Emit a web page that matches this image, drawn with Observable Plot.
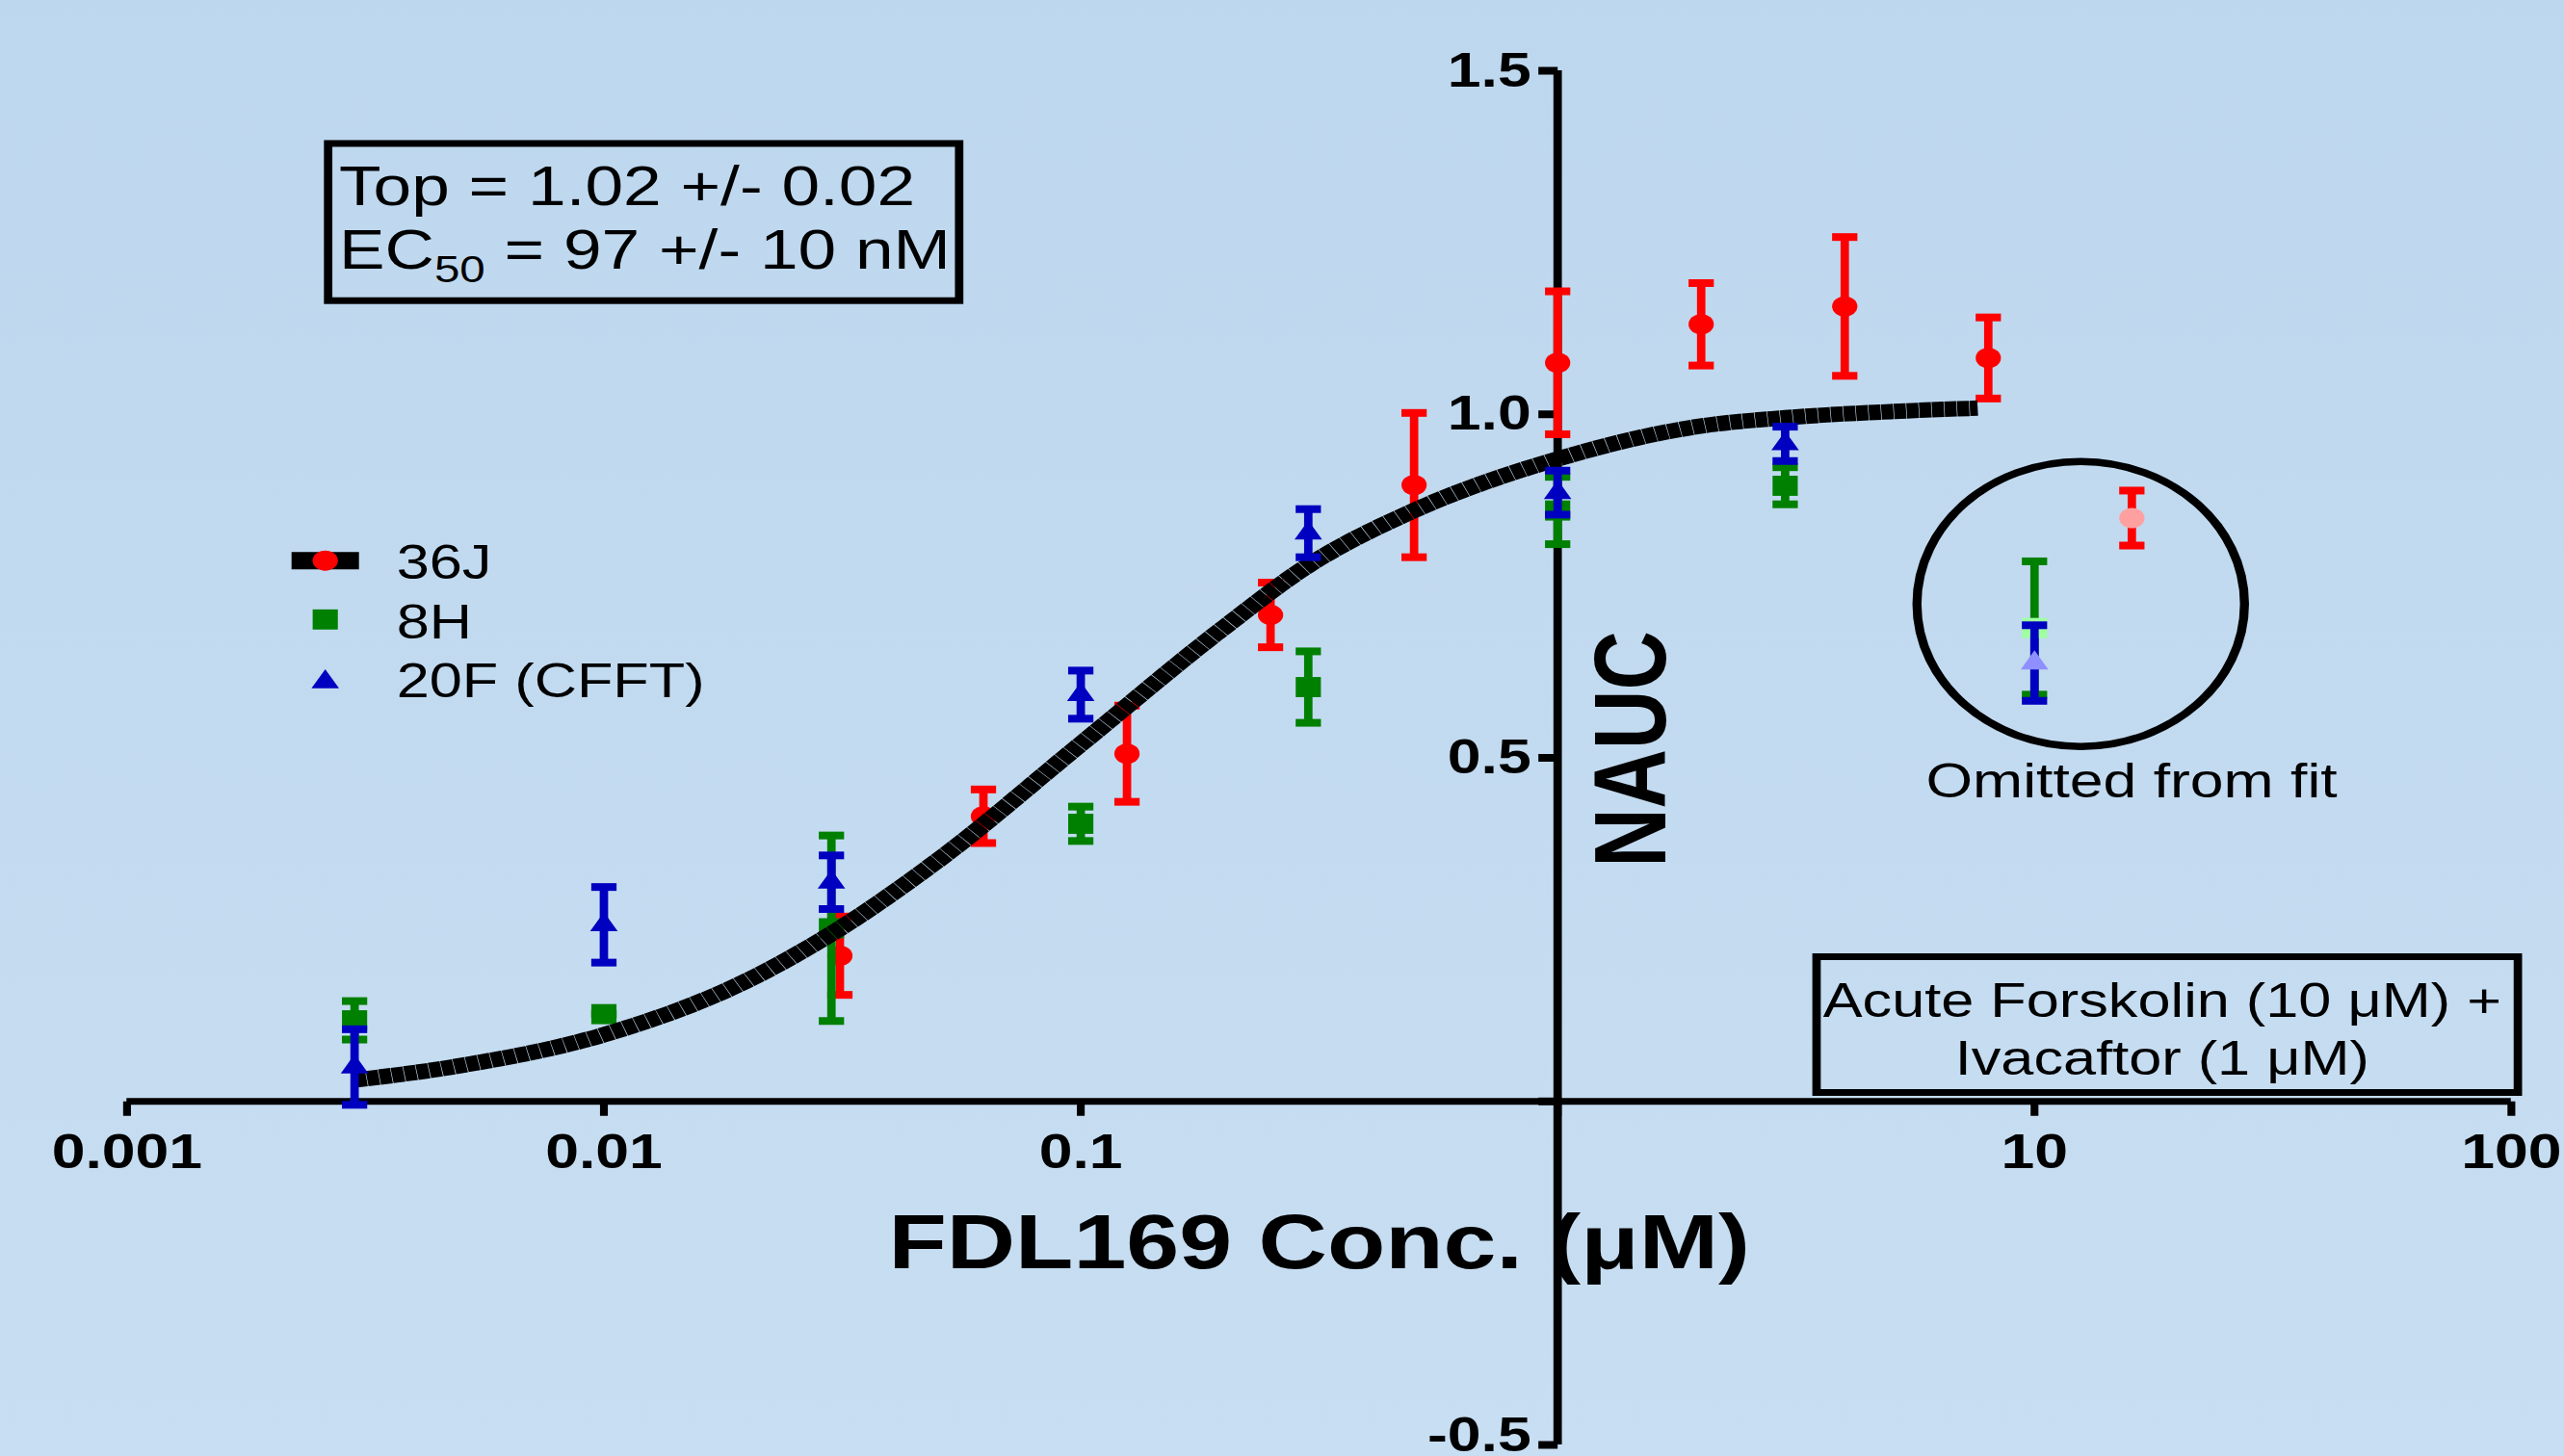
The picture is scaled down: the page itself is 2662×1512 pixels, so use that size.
<!DOCTYPE html>
<html>
<head>
<meta charset="utf-8">
<script src="https://cdn.jsdelivr.net/npm/d3@7"></script>
<script src="https://cdn.jsdelivr.net/npm/@observablehq/plot@0.6"></script>
<style>
html, body { margin: 0; padding: 0; width: 2662px; height: 1512px; overflow: hidden;
  background: linear-gradient(#BDD7EE, #C8DEF2); }
#chart { width: 2662px; height: 1512px; }
</style>
</head>
<body>
<div id="chart"></div>
<script>
// ---------------- data ----------------
const redConc  = [0.03125, 0.0625, 0.125, 0.25, 0.5, 1, 2, 4, 8];
const redMean  = [0.212, 0.415, 0.506, 0.708, 0.897, 1.075, 1.131, 1.157, 1.082];
const redSem   = [0.057, 0.039, 0.070, 0.047, 0.105, 0.104, 0.060, 0.101, 0.059];

const gbConc    = [0.003, 0.01, 0.03, 0.1, 0.3, 1, 3];
const greenMean = [0.118, 0.127, 0.252, 0.404, 0.603, 0.860, 0.896];
const greenSem  = [0.028, 0.000, 0.135, 0.025, 0.052, 0.049, 0.027];
const blueMean  = [0.050, 0.257, 0.319, 0.592, 0.827, 0.886, 0.957];
const blueSem   = [0.055, 0.055, 0.039, 0.035, 0.035, 0.032, 0.025];

// points omitted from the fit (36J, 8H, 20F)
const omitConc = [16, 10, 10];
const omitMean = [0.849, 0.689, 0.638];
const omitSem  = [0.040, 0.097, 0.055];

// fitted curve
const curveConc = [0.003, 0.005, 0.01, 0.02, 0.03, 0.05, 0.1, 0.2, 0.3, 0.5, 1, 2, 3, 5, 7.6];
const curveNAUC = [0.031, 0.052, 0.097, 0.176, 0.244, 0.350, 0.520, 0.690, 0.780, 0.860, 0.935, 0.983, 0.995, 1.004, 1.009];

const seriesNames = ["36J", "8H", "20F (CFFT)"];
const xTickValues = [0.001, 0.01, 0.1, 1, 10, 100];
const xTickLabels = ["0.001", "0.01", "0.1", "10", "100"];
const yTickValues = [-0.5, 0, 0.5, 1, 1.5];
const yTickLabels = ["0.5", "1.0", "1.5"];
const yBottomLabel = ["-0.5"];
const xTitle = "FDL169 Conc. (\u03BCM)";
const yTitle = "NAUC";
const statTop = "Top = 1.02 +/- 0.02";
const statEC = ["EC", "50", " = 97 +/- 10 nM"];
const conditionText = "Acute Forskolin (10 \u03BCM) +\nIvacaftor (1 \u03BCM)";
const omittedNote = "Omitted from fit";
const omittedCenter = [{x: 12.5, y: 0.724}];

// ---------------- layout ----------------
const S = 1.25;               // horizontal stretch of the original picture
const W = 2130, H = 1512;
const ML = 105, MR = 45, MT = 73, MB = 12;
const RED = "#FF0000", GREEN = "#008000", BLUE = "#0000C0";

// custom symbols
const lineSym = (fn) => ({draw(c, size) { const r = Math.sqrt(size / Math.PI); fn(c, r); }});
const capSym   = lineSym((c, r) => { c.moveTo(-r, 0); c.lineTo(r, 0); });
const tickDown = lineSym((c, r) => { c.moveTo(0, 0); c.lineTo(0, r); });
const tickLeft = lineSym((c, r) => { c.moveTo(0, 0); c.lineTo(-r, 0); });
const ellipseSym = (rx, ry) => ({draw(c) {
  const k = 0.5523;
  c.moveTo(rx, 0);
  c.bezierCurveTo(rx, ry * k, rx * k, ry, 0, ry);
  c.bezierCurveTo(-rx * k, ry, -rx, ry * k, -rx, 0);
  c.bezierCurveTo(-rx, -ry * k, -rx * k, -ry, 0, -ry);
  c.bezierCurveTo(rx * k, -ry, rx, -ry * k, rx, 0);
  c.closePath();
}});

const rows = (xs, ms, es) => xs.map((x, i) => ({x, y: ms[i], e: es[i]}));
const red   = rows(redConc, redMean, redSem);
const green = rows(gbConc, greenMean, greenSem);
const blue  = rows(gbConc, blueMean, blueSem);
const omit  = rows(omitConc, omitMean, omitSem);
const curve = curveConc.map((x, i) => ({x, y: curveNAUC[i]}));

function errorBars(data, color) {
  return [
    Plot.ruleX(data, {x: "x", y1: d => d.y - d.e, y2: d => d.y + d.e, stroke: color, strokeWidth: 7}),
    Plot.dot(data, {x: "x", y: d => d.y + d.e, symbol: capSym, r: 10.5, stroke: color, strokeWidth: 8, fill: "none"}),
    Plot.dot(data, {x: "x", y: d => d.y - d.e, symbol: capSym, r: 10.5, stroke: color, strokeWidth: 8, fill: "none"})
  ];
}
const markerCircle = (data, fill) => Plot.dot(data, {x: "x", y: "y", symbol: "circle", r: 10.5, fill, stroke: "none"});
const markerSquare = (data, fill) => Plot.dot(data, {x: "x", y: "y", symbol: "square", r: 11.8, fill, stroke: "none"});
const markerTri    = (data, fill) => Plot.dot(data, {x: "x", y: "y", symbol: "triangle", r: 8.5, fill, stroke: "none"});

const txt = {fill: "#000", stroke: "none"};

const marks = [
  // axes crossing at (1, 0)
  Plot.ruleY([0], {stroke: "#000", strokeWidth: 7}),
  Plot.ruleX([1], {stroke: "#000", strokeWidth: 7}),
  Plot.dot(xTickValues, {x: d => d, y: 0, symbol: tickDown, r: 15, stroke: "#000", strokeWidth: 6.5, fill: "none"}),
  Plot.dot(yTickValues, {x: 1, y: d => d, symbol: tickLeft, r: 16, stroke: "#000", strokeWidth: 8, fill: "none"}),
  Plot.text(xTickLabels, {x: d => +d, y: 0, text: d => d, dy: 69, textAnchor: "middle", lineAnchor: "bottom",
    fontSize: 50, fontWeight: "bold", ...txt}),
  Plot.text(yTickLabels, {x: 1, y: d => +d, text: d => d, dx: -22, textAnchor: "end", lineAnchor: "middle",
    fontSize: 50, fontWeight: "bold", ...txt}),
  Plot.text(yBottomLabel, {x: 1, y: d => +d, text: d => d, dx: -22, dy: -10, textAnchor: "end", lineAnchor: "middle",
    fontSize: 50, fontWeight: "bold", ...txt}),
  Plot.text([xTitle], {frameAnchor: "bottom", dy: -184, textAnchor: "middle", lineAnchor: "bottom",
    fontSize: 79, fontWeight: "bold", ...txt}),
  Plot.text([yTitle], {x: 1, y: 0.5, dx: 62.5, dy: -9, rotate: -90, textAnchor: "middle", lineAnchor: "middle",
    fontSize: 85, fontWeight: "bold", ...txt}),

  // annotation boxes
  Plot.frame({insetLeft: 167, insetRight: 1289, insetTop: 75.5, insetBottom: 1188.3, stroke: "#000", strokeWidth: 7, fill: "none"}),
  Plot.text([statTop], {frameAnchor: "top-left", dx: 176, dy: 139, textAnchor: "start", lineAnchor: "bottom", fontSize: 57, ...txt}),
  Plot.text([statEC.join("")], {frameAnchor: "top-left", dx: 176, dy: 205, textAnchor: "start", lineAnchor: "bottom", fontSize: 57, ...txt}),
  Plot.frame({insetLeft: 1403, insetRight: -5.4, insetTop: 920, insetBottom: 366, stroke: "#000", strokeWidth: 7, fill: "none"}),
  Plot.text([conditionText], {frameAnchor: "top-left", dx: 1690, dy: 1042, textAnchor: "middle", lineAnchor: "bottom",
    lineHeight: 1.2245, fontSize: 49, ...txt}),

  // omitted-from-fit annotation
  Plot.dot(omittedCenter, {x: "x", y: "y", symbol: ellipseSym(136, 148), stroke: "#000", strokeWidth: 7.5, fill: "none"}),
  Plot.text([omittedNote], {frameAnchor: "top-left", dx: 1664.6, dy: 754.6, textAnchor: "middle", lineAnchor: "bottom", fontSize: 50, ...txt}),

  // legend
  Plot.dot([0], {frameAnchor: "top-left", dx: 164.6, dy: 508.7, symbol: capSym, r: 28, stroke: "#000", strokeWidth: 18, fill: "none"}),
  Plot.dot([0], {frameAnchor: "top-left", dx: 164.6, dy: 508.7, symbol: "circle", r: 10.5, fill: RED, stroke: "none"}),
  Plot.dot([0], {frameAnchor: "top-left", dx: 164.6, dy: 569.8, symbol: "square", r: 11.8, fill: GREEN, stroke: "none"}),
  Plot.dot([0], {frameAnchor: "top-left", dx: 164.6, dy: 634.7, symbol: "triangle", r: 8.5, fill: BLUE, stroke: "none"}),
  ...seriesNames.map((name, i) => Plot.text([name], {frameAnchor: "top-left", dx: 223.8, dy: [527, 589, 650][i],
    textAnchor: "start", lineAnchor: "bottom", fontSize: 49, ...txt})),

  // data: 36J (red)
  ...errorBars(red, RED), markerCircle(red, RED),
  ...errorBars([omit[0]], RED), markerCircle([omit[0]], "#FFA0A0"),
  // data: 8H (green)
  ...errorBars(green, GREEN), markerSquare(green, GREEN),
  ...errorBars([omit[1]], GREEN), markerSquare([omit[1]], "#A0FFA0"),
  // fitted curve
  Plot.line(curve, {x: "x", y: "y", stroke: "#000", strokeWidth: 16, curve: "monotone-x",
    strokeLinecap: "butt", strokeLinejoin: "round", strokeDasharray: "10,0.5"}),
  // data: 20F (blue)
  ...errorBars(blue, BLUE), markerTri(blue, BLUE),
  ...errorBars([omit[2]], BLUE), markerTri([omit[2]], "#8F8FFF")
];

const svg = Plot.plot({
  width: W, height: H,
  marginLeft: ML, marginRight: MR, marginTop: MT, marginBottom: MB,
  x: {type: "log", domain: [0.001, 100], axis: null},
  y: {domain: [-0.5, 1.5], axis: null},
  style: {fontFamily: "'Liberation Sans', Arial, sans-serif", background: "transparent", overflow: "visible"},
  marks
});

// subscript in EC50
const ecText = Array.from(svg.querySelectorAll("text")).find(el => el.textContent === statEC.join(""));
if (ecText) {
  const ns = "http://www.w3.org/2000/svg";
  while (ecText.firstChild) ecText.removeChild(ecText.firstChild);
  const a = document.createElementNS(ns, "tspan"); a.textContent = statEC[0];
  const b = document.createElementNS(ns, "tspan"); b.textContent = statEC[1];
  b.setAttribute("font-size", 38); b.setAttribute("dy", 14);
  const c = document.createElementNS(ns, "tspan"); c.textContent = statEC[2];
  c.setAttribute("dy", -14);
  ecText.append(a, b, c);
}

// stretch horizontally like the original picture
svg.setAttribute("width", Math.round(W * S));
svg.setAttribute("height", H);
svg.setAttribute("preserveAspectRatio", "none");
svg.style.width = Math.round(W * S) + "px";
svg.style.height = H + "px";
svg.style.maxWidth = "none";
document.getElementById("chart").append(svg);
</script>
</body>
</html>
